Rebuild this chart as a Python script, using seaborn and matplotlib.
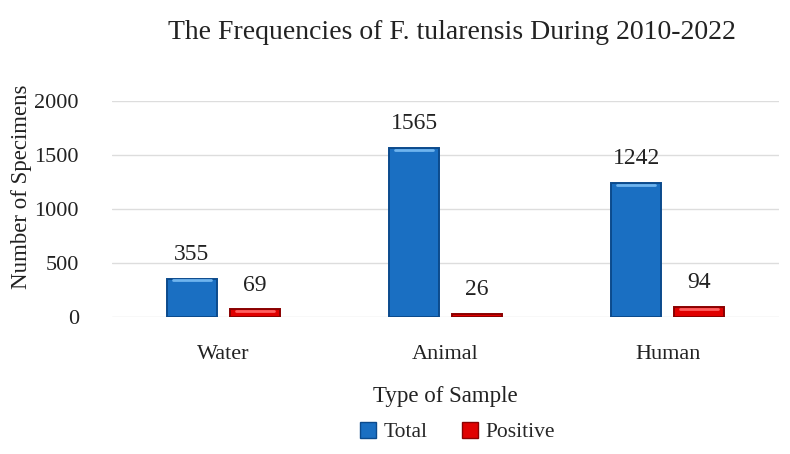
import matplotlib
matplotlib.use("Agg")
import matplotlib.pyplot as plt
import seaborn as sns
import pandas as pd
from matplotlib.patches import Patch

categories = ["Water", "Animal", "Human"]
total = [355, 1565, 1242]
positive = [69, 26, 94]
series = ["Total", "Positive"]

df = pd.DataFrame({
    "Type": categories * 2,
    "Series": ["Total"] * 3 + ["Positive"] * 3,
    "Value": total + positive,
})

sns.set_theme(style="white")
plt.rcParams["font.family"] = ["Liberation Serif", "DejaVu Serif"]

fig = plt.figure(figsize=(7.9, 4.54), dpi=100)
ax = fig.add_axes([0.142, 0.302, 0.844, 0.476])

palette = {"Total": "#1a6fc2", "Positive": "#e00000"}
edges = {"Total": "#0b4a8c", "Positive": "#8a0000"}
highlights = {"Total": "#6fb4ee", "Positive": "#ff6060"}

sns.barplot(data=df, x="Type", y="Value", hue="Series", hue_order=series,
            order=categories, palette=palette, width=0.567, gap=0.21,
            ax=ax, legend=False, saturation=1)
xlim = ax.get_xlim()

for container, s in zip(ax.containers, series):
    for p in container.patches:
        p.set_edgecolor(edges[s])
        p.set_linewidth(1.4)
        # bevel highlight along the top of the bar
        x0, w, h = p.get_x(), p.get_width(), p.get_height()
        if h > 60:
            ax.plot([x0 + w * 0.12, x0 + w * 0.88], [h - 18, h - 18],
                    color=highlights[s], linewidth=2.0, solid_capstyle="round",
                    zorder=p.get_zorder() + 0.1)
    ax.bar_label(container, labels=[f"{int(v)}" for v in container.datavalues],
                 padding=10, fontsize=17, color="#222222")

ax.set_xlim(xlim)
ax.set_ylim(0, 2000)
ax.set_yticks([0, 500, 1000, 1500, 2000])
ax.yaxis.grid(True, color="#dddddd", linewidth=1)
ax.set_axisbelow(True)
for sp in ax.spines.values():
    sp.set_visible(False)
ax.tick_params(axis="both", length=0, labelsize=16, colors="#222222")
ax.tick_params(axis="y", pad=24)
ax.tick_params(axis="x", pad=20)
ax.set_xlabel("Type of Sample", fontsize=16.5, labelpad=16, color="#222222")
ax.set_ylabel("Number of Specimens", fontsize=16.5, color="#222222")
ax.yaxis.set_label_coords(-0.12, 0.6)

fig.suptitle("The Frequencies of F. tularensis During 2010-2022", fontsize=20,
             x=0.572, y=0.955, color="#222222")

handles = [Patch(facecolor=palette[s], edgecolor=edges[s], label=s) for s in series]
fig.legend(handles=handles, loc="center", bbox_to_anchor=(0.579, 0.048), ncol=2,
           frameon=False, fontsize=15.5, handlelength=0.75, handleheight=0.75,
           columnspacing=1.6, handletextpad=0.35)

fig.savefig("out.png", dpi=100)
